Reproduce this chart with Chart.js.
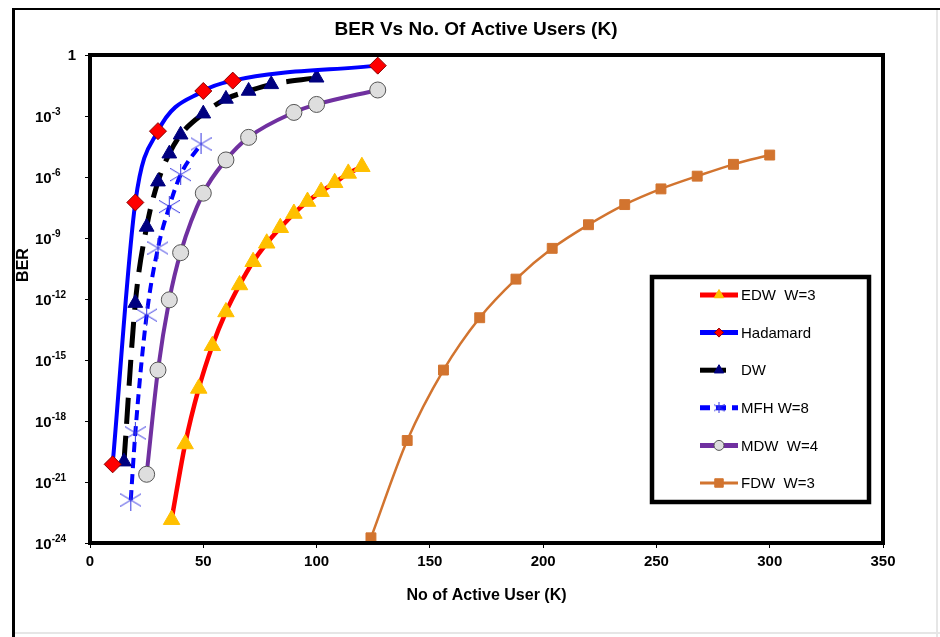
<!DOCTYPE html>
<html>
<head>
<meta charset="utf-8">
<title>BER Vs No. Of Active Users (K)</title>
<script src="https://cdn.jsdelivr.net/npm/chart.js@4.4.1/dist/chart.umd.min.js"></script>
<style>
    html, body { margin: 0; padding: 0; background: #fff; }
    #wrap { width: 940px; height: 637px; position: relative; }
</style>
</head>
<body>
<div id="wrap"><canvas id="berChart"></canvas></div>
<script>
// number of active users (K) and bit error rate for each code family
const edwUsers = [36, 42, 48, 54, 60, 66, 72, 78, 84, 90, 96, 102, 108, 114, 120];
const edwBer = [1.4e-23, 7.4e-20, 4.0e-17, 5.0e-15, 2.3e-13, 4.9e-12, 6.8e-11, 5.5e-10, 3.2e-9, 1.6e-8, 6.2e-8, 1.9e-7, 5.2e-7, 1.5e-6, 3.2e-6];

const hadamardUsers = [10, 20, 30, 50, 63, 127];
const hadamardBer = [7.4e-21, 5.6e-8, 1.8e-4, 1.7e-2, 5.5e-2, 0.30];

const dwUsers = [15, 20, 25, 30, 35, 40, 50, 60, 70, 80, 100];
const dwBer = [1.0e-20, 6.3e-13, 3.5e-9, 5.9e-7, 1.4e-5, 1.2e-4, 1.3e-3, 6.9e-3, 1.7e-2, 3.6e-2, 7.6e-2];

const mfhUsers = [18, 20, 25, 30, 35, 40, 49];
const mfhBer = [1.3e-22, 2.6e-19, 1.6e-13, 3.2e-10, 3.5e-8, 1.3e-6, 4.2e-5];

const mdwUsers = [25, 30, 35, 40, 50, 60, 70, 90, 100, 127];
const mdwBer = [2.4e-21, 3.2e-16, 9.1e-13, 1.9e-10, 1.6e-7, 6.9e-6, 8.9e-5, 1.5e-3, 3.7e-3, 1.9e-2];

const fdwUsers = [124, 140, 156, 172, 188, 204, 220, 236, 252, 268, 284, 300];
const fdwBer = [1.8e-24, 1.1e-19, 3.2e-16, 1.2e-13, 9.5e-12, 3.1e-10, 4.5e-9, 4.4e-8, 2.6e-7, 1.1e-6, 4.2e-6, 1.2e-5];

// y axis labelled every third decade: 1, 10^-3 ... 10^-24
const yTickExponents = [0, -3, -6, -9, -12, -15, -18, -21, -24];

const FONT = '"Liberation Sans", Arial, sans-serif';
Chart.defaults.font.family = FONT;
Chart.defaults.color = '#000';

function toPoints(xs, ys) {
    return xs.map((x, i) => ({ x: x, y: ys[i] }));
}

// asterisk marker (X with a vertical bar)
function starMarker(size, color) {
    const c = document.createElement('canvas');
    c.width = size;
    c.height = size;
    const g = c.getContext('2d');
    const m = size / 2;
    g.strokeStyle = color;
    g.lineWidth = 1;
    g.beginPath();
    g.moveTo(m, 0);
    g.lineTo(m, size);
    g.moveTo(0, size * 0.2);
    g.lineTo(size, size * 0.8);
    g.moveTo(0, size * 0.8);
    g.lineTo(size, size * 0.2);
    g.stroke();
    return c;
}
const starBig = starMarker(21, '#3535e0');
const starSmall = starMarker(11, '#3535e0');

// white page with the outer frame
const frame = {
    id: 'frame',
    beforeDraw(chart) {
        const ctx = chart.ctx;
        ctx.save();
        ctx.fillStyle = '#fff';
        ctx.fillRect(0, 0, chart.width, chart.height);
        ctx.fillStyle = '#000';
        ctx.fillRect(12, 8, 3, chart.height - 8);
        ctx.fillRect(12, 8, chart.width - 12, 2);
        ctx.fillStyle = '#e6e6e6';
        ctx.fillRect(936, 10, 2, chart.height - 10);
        ctx.fillRect(15, 632, chart.width - 15, 2);
        ctx.restore();
    },
    afterDatasetsDraw(chart) {
        // thick box round the plot area
        const { left, top, right, bottom } = chart.chartArea;
        const ctx = chart.ctx;
        ctx.save();
        ctx.strokeStyle = '#000';
        ctx.lineWidth = 4;
        ctx.strokeRect(left, top, right - left, bottom - top);
        ctx.restore();
    }
};

// title, y title and power-of-ten tick labels
const labels = {
    id: 'labels',
    afterDraw(chart) {
        const ctx = chart.ctx;
        const y = chart.scales.y;
        ctx.save();
        ctx.fillStyle = '#000';
        ctx.textBaseline = 'middle';

        ctx.font = 'bold 19px ' + FONT;
        ctx.textAlign = 'center';
        ctx.fillText('BER Vs No. Of Active Users (K)', 476, 30);

        ctx.save();
        ctx.translate(24, 265);
        ctx.rotate(-Math.PI / 2);
        ctx.font = 'bold 16px ' + FONT;
        ctx.fillText('BER', 0, 0);
        ctx.restore();

        yTickExponents.forEach(e => {
            const py = y.getPixelForValue(Math.pow(10, e));
            if (e === 0) {
                ctx.font = 'bold 15px ' + FONT;
                ctx.textAlign = 'right';
                ctx.fillText('1', 76, py + 1);
                return;
            }
            ctx.textAlign = 'left';
            ctx.font = 'bold 15px ' + FONT;
            ctx.fillText('10', 35, py + 2);
            const w = ctx.measureText('10').width;
            ctx.font = 'bold 10px ' + FONT;
            ctx.fillText(String(e), 35 + w, py - 4);
        });
        ctx.restore();
    }
};

// boxed legend inside the plot
const legendBox = {
    id: 'legendBox',
    afterDraw(chart) {
        const ctx = chart.ctx;
        const box = { left: 652, top: 277, right: 869, bottom: 502 };
        const markerSize = [5.5, 4.5, 5.5, 0, 5, 6];
        const sampleWidth = [5, 5, 5, 5, 5, 3];
        ctx.save();
        ctx.fillStyle = '#fff';
        ctx.fillRect(box.left, box.top, box.right - box.left, box.bottom - box.top);
        ctx.strokeStyle = '#000';
        ctx.lineWidth = 4.5;
        ctx.strokeRect(box.left, box.top, box.right - box.left, box.bottom - box.top);

        chart.data.datasets.forEach((ds, i) => {
            const cy = 295 + i * 37.6;
            ctx.save();
            ctx.strokeStyle = ds.borderColor;
            ctx.lineWidth = sampleWidth[i];
            ctx.setLineDash(ds.borderDash || []);
            ctx.beginPath();
            ctx.moveTo(700, cy);
            ctx.lineTo(738, cy);
            ctx.stroke();
            ctx.restore();

            ctx.save();
            ctx.fillStyle = ds.pointBackgroundColor;
            ctx.strokeStyle = ds.pointBorderColor;
            ctx.lineWidth = 1;
            ctx.setLineDash([]);
            Chart.helpers.drawPoint(ctx, {
                pointStyle: ds.pointStyle === starBig ? starSmall : ds.pointStyle,
                radius: markerSize[i],
                borderWidth: 1,
                rotation: 0
            }, 719, cy);
            ctx.restore();

            ctx.fillStyle = '#000';
            ctx.font = '15px ' + FONT;
            ctx.textAlign = 'left';
            ctx.textBaseline = 'middle';
            ctx.fillText(ds.label, 741, cy + 1);
        });
        ctx.restore();
    }
};

new Chart(document.getElementById('berChart'), {
    type: 'line',
    data: {
        datasets: [
            {
                label: 'EDW  W=3',
                data: toPoints(edwUsers, edwBer),
                borderColor: '#ff0000',
                borderWidth: 4.5,
                pointStyle: 'triangle',
                pointRadius: 9.5,
                pointBackgroundColor: '#ffc000',
                pointBorderColor: '#ffc000',
                pointBorderWidth: 1
            },
            {
                label: 'Hadamard',
                data: toPoints(hadamardUsers, hadamardBer),
                borderColor: '#0000ff',
                borderWidth: 4,
                pointStyle: 'rectRot',
                pointRadius: 8.5,
                pointBackgroundColor: '#ff0000',
                pointBorderColor: '#8a0000',
                pointBorderWidth: 1
            },
            {
                label: 'DW',
                data: toPoints(dwUsers, dwBer),
                borderColor: '#000000',
                borderWidth: 5,
                borderDash: [26, 12],
                pointStyle: 'triangle',
                pointRadius: 8.5,
                pointBackgroundColor: '#000080',
                pointBorderColor: '#000080',
                pointBorderWidth: 1
            },
            {
                label: 'MFH W=8',
                data: toPoints(mfhUsers, mfhBer),
                borderColor: '#0000ff',
                borderWidth: 4,
                borderDash: [10, 6],
                pointStyle: starBig,
                pointRadius: 10,
                pointBackgroundColor: '#3535e0',
                pointBorderColor: '#3535e0'
            },
            {
                label: 'MDW  W=4',
                data: toPoints(mdwUsers, mdwBer),
                borderColor: '#7030a0',
                borderWidth: 4,
                pointStyle: 'circle',
                pointRadius: 8,
                pointBackgroundColor: '#dedede',
                pointBorderColor: '#555555',
                pointBorderWidth: 1
            },
            {
                label: 'FDW  W=3',
                data: toPoints(fdwUsers, fdwBer),
                borderColor: '#d2742f',
                borderWidth: 2.5,
                pointStyle: 'rect',
                pointRadius: 7,
                pointBackgroundColor: '#d2742f',
                pointBorderColor: '#d2742f',
                pointBorderWidth: 1
            }
        ]
    },
    options: {
        responsive: true,
        maintainAspectRatio: false,
        animation: false,
        datasets: {
            line: { cubicInterpolationMode: 'monotone', fill: false }
        },
        layout: { padding: { left: 0, top: 55, right: 57, bottom: 0 } },
        plugins: {
            legend: { display: false },
            title: { display: false },
            tooltip: { enabled: false }
        },
        scales: {
            x: {
                type: 'linear',
                min: 0,
                max: 350,
                ticks: {
                    stepSize: 50,
                    padding: 5,
                    color: '#000',
                    font: { size: 15, weight: 'bold' }
                },
                grid: {
                    drawOnChartArea: false,
                    drawTicks: true,
                    tickLength: 5,
                    tickWidth: 1,
                    tickColor: '#000'
                },
                border: { display: true, color: '#000', width: 4 },
                title: {
                    display: true,
                    text: 'No of Active User (K)',
                    color: '#000',
                    font: { size: 16, weight: 'bold' },
                    padding: { top: 0, bottom: 32 }
                },
                afterFit(scale) { scale.height = 94; }
            },
            y: {
                type: 'logarithmic',
                min: 1e-24,
                max: 1,
                ticks: { display: false },
                afterBuildTicks(scale) {
                    scale.ticks = yTickExponents.map(e => ({ value: Math.pow(10, e) }));
                },
                grid: {
                    drawOnChartArea: false,
                    drawTicks: true,
                    tickLength: 5,
                    tickWidth: 1,
                    tickColor: '#000'
                },
                border: { display: true, color: '#000', width: 4 },
                afterFit(scale) { scale.width = 90; }
            }
        }
    },
    plugins: [frame, labels, legendBox]
});
</script>
</body>
</html>
